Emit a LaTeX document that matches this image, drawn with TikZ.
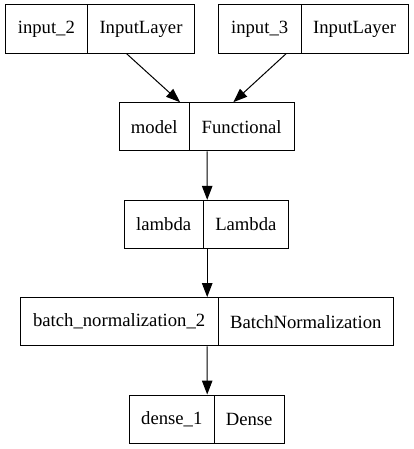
\documentclass[tikz,border=0pt]{standalone}
\usepackage{fontspec}
\setmainfont{Liberation Serif}
\usetikzlibrary{arrows.meta}

\begin{document}
\begin{tikzpicture}[x=1pt, y=-1pt,
        cell/.style={draw, line width=1pt, inner sep=0pt, minimum height=48.3pt,
            font=\fontsize{18.67}{22}\selectfont},
        arr/.style={-{Triangle[length=14pt, width=10.5pt]}, line width=1pt}]
        \useasboundingbox (0,0) rectangle (413,449);

        \node[cell, minimum width=82.7pt] (in2n) at (46.35, 29.15) {input\_2};
        \node[cell, minimum width=106.6pt] (in2t) at (141, 29.15) {InputLayer};
        \node[cell, minimum width=82.7pt] (in3n) at (259.65, 29.15) {input\_3};
        \node[cell, minimum width=107.3pt] (in3t) at (354.65, 29.15) {InputLayer};
        \node[cell, minimum width=70pt] (modn) at (154.3, 126.85) {model};
        \node[cell, minimum width=104.7pt] (modt) at (241.65, 126.85) {Functional};
        \node[cell, minimum width=78.7pt] (lamn) at (163.65, 224.5) {lambda};
        \node[cell, minimum width=85.7pt] (lamt) at (245.85, 224.5) {Lambda};
        \node[cell, minimum width=198.3pt] (bnn) at (119.15, 321.7) {batch\_normalization\_2};
        \node[cell, minimum width=175pt] (bnt) at (305.8, 321.7) {BatchNormalization};
        \node[cell, minimum width=85pt] (denn) at (171.8, 419.15) {dense\_1};
        \node[cell, minimum width=69.7pt] (dent) at (249.15, 419.15) {Dense};

        \draw[arr] ([xshift=-14.3pt]in2t.south) -- ([xshift=25.7pt]modn.north);
        \draw[arr] ([xshift=26.35pt]in3n.south) -- ([xshift=-8.35pt]modt.north);
        \draw[arr] ([xshift=17.4pt]modn.south east) -- ([xshift=3.7pt]lamn.north east);
        \draw[arr] ([xshift=3.7pt]lamn.south east) -- ([xshift=-11.6pt]bnn.north east);
        \draw[arr] ([xshift=-11.6pt]bnn.south east) -- ([xshift=-7.6pt]denn.north east);
    \end{tikzpicture}
\end{document}
